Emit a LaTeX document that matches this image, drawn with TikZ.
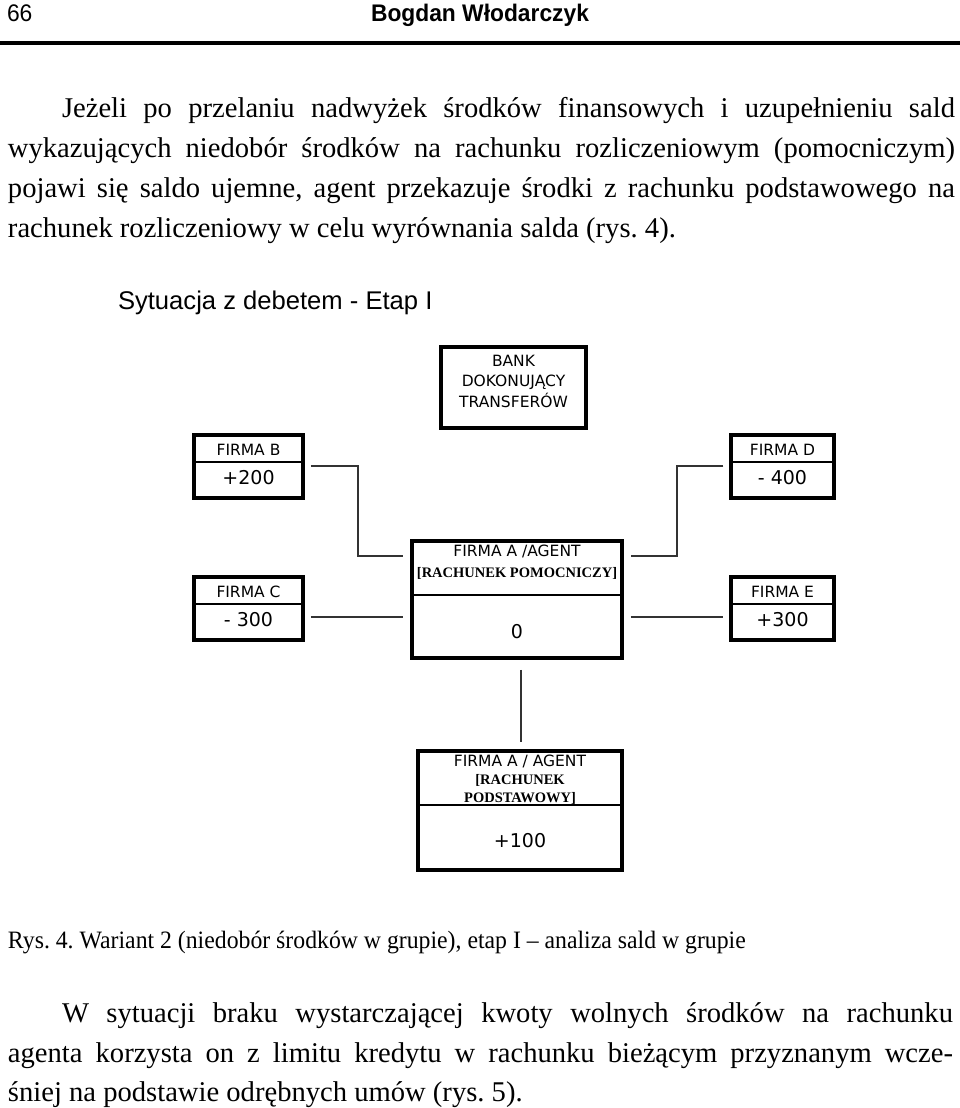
\documentclass[tikz,border=0pt]{standalone}
\usepackage{fontspec}
\setmainfont{Liberation Serif}
\newfontfamily\bodyfont{Liberation Serif}
\newfontfamily\capfont[FakeStretch=0.95]{Liberation Serif}
\newfontfamily\headfont[FakeStretch=0.95]{Liberation Sans}
\newfontfamily\arialfont{Liberation Sans}
\newfontfamily\boxfont{DejaVu Sans}
\newfontfamily\valfont{DejaVu Sans}
\newfontfamily\boxserif{Liberation Serif}
\frenchspacing
\begin{document}
\begin{tikzpicture}[x=1pt,y=-1pt,
  txt/.style={inner sep=0pt, outer sep=0pt, anchor=base west},
  para/.style={txt, font=\bodyfont\fontsize{28.6}{34}\selectfont},
  bx/.style={draw, line width=3.5pt, inner sep=0pt, minimum width=#1},
  lbl/.style={inner sep=0pt, font=\boxfont\fontsize{15.5}{18}\selectfont},
  val/.style={inner sep=0pt, font=\valfont\fontsize{19}{22}\selectfont},
  srf/.style={inner sep=0pt, font=\boxserif\bfseries\fontsize{14.5}{17}\selectfont},
  conn/.style={line width=1.3pt, draw=black!80},
  divl/.style={line width=1.3pt}]
\useasboundingbox (0,0) rectangle (960,1108);
\fill[white] (0,0) rectangle (960,1108);

% header
\node[txt, font=\headfont\fontsize{24}{28}\selectfont] (pg) at (7,22) {66};
\node[inner sep=0pt, anchor=base, font=\headfont\bfseries\fontsize{24}{28}\selectfont] (au) at (480,22) {Bogdan Włodarczyk};
\draw[line width=4pt] (0,43) -- (960,43);

% paragraph 1
\node[para] (p1a) at (62,117) {\makebox[893pt][s]{Jeżeli po przelaniu nadwyżek środków finansowych i uzupełnieniu sald}};
\node[para] (p1b) at (8,157) {\makebox[947pt][s]{wykazujących niedobór środków na rachunku rozliczeniowym (pomocniczym)}};
\node[para] (p1c) at (8,197) {\makebox[947pt][s]{pojawi się saldo ujemne, agent przekazuje środki z rachunku podstawowego na}};
\node[para] (p1d) at (8,237) {rachunek rozliczeniowy w celu wyrównania salda (rys. 4).};

% title
\node[txt, font=\arialfont\fontsize{25.6}{30}\selectfont] (tt) at (118,309) {Sytuacja z debetem - Etap I};

% boxes
\node[bx=145pt, minimum height=81pt] (bank) at (513.5,387.5) {};
\node[lbl, align=center, font=\boxfont\fontsize{15.5}{20.5}\selectfont] (banktxt) at (513.5,381) {BANK\\DOKONUJĄCY\\TRANSFERÓW};

\node[bx=109pt, minimum height=63pt] (fb) at (248.5,466.5) {};
\draw[divl] (fb.west |- 0,462) -- (fb.east |- 0,462);
\node[lbl] (fbl) at (248.5,450) {FIRMA B};
\node[val] (fbv) at (248.5,478) {+200};

\node[bx=103pt, minimum height=63pt] (fd) at (782.5,466.5) {};
\draw[divl] (fd.west |- 0,462) -- (fd.east |- 0,462);
\node[lbl] (fdl) at (782.5,450) {FIRMA D};
\node[val] (fdv) at (782.5,478) {- 400};

\node[bx=109pt, minimum height=63pt] (fc) at (248.5,608.5) {};
\draw[divl] (fc.west |- 0,604) -- (fc.east |- 0,604);
\node[lbl] (fcl) at (248.5,592) {FIRMA C};
\node[val] (fcv) at (248.5,620) {- 300};

\node[bx=103pt, minimum height=63pt] (fe) at (782.5,608.5) {};
\draw[divl] (fe.west |- 0,604) -- (fe.east |- 0,604);
\node[lbl] (fel) at (782.5,592) {FIRMA E};
\node[val] (fev) at (782.5,620) {+300};

\node[bx=210pt, minimum height=117pt] (ag) at (517,599.5) {};
\draw[divl] (ag.west |- 0,595) -- (ag.east |- 0,595);
\node[lbl] (agl) at (517,551) {FIRMA A /AGENT};
\node[srf] (ags) at (517,573) {[RACHUNEK POMOCNICZY]};
\node[val] (agv) at (517,632) {0};

\node[bx=204pt, minimum height=119pt] (ab) at (520,810.5) {};
\draw[divl] (ab.west |- 0,805) -- (ab.east |- 0,805);
\node[lbl] (abl) at (520,761) {FIRMA A / AGENT};
\node[srf, align=center, font=\boxserif\bfseries\fontsize{14.5}{18}\selectfont] (abs) at (520,789) {[RACHUNEK\\PODSTAWOWY]};
\node[val] (abv) at (520,841) {+100};

% connectors
\coordinate (b1) at ([xshift=6pt]fb.east |- 0,466);
\coordinate (b2) at (358,466);
\coordinate (b3) at (358,556);
\coordinate (b4) at ([xshift=-7pt]ag.west |- 0,556);
\draw[conn] (b1) -- (b2) -- (b3) -- (b4);
\coordinate (d1) at ([xshift=-6pt]fd.west |- 0,466);
\coordinate (d2) at (677,466);
\coordinate (d3) at (677,556);
\coordinate (d4) at ([xshift=7pt]ag.east |- 0,556);
\draw[conn] (d1) -- (d2) -- (d3) -- (d4);
\draw[conn] ([xshift=6pt]fc.east |- 0,617) -- ([xshift=-7pt]ag.west |- 0,617);
\draw[conn] ([xshift=7pt]ag.east |- 0,617) -- ([xshift=-6pt]fe.west |- 0,617);
\draw[conn] ([yshift=-10pt]ag.south -| 521,0) -- ([yshift=7pt]ab.north -| 521,0);

% caption
\node[txt, font=\capfont\fontsize{25}{28}\selectfont] (cap) at (8,948) {Rys. 4. Wariant 2 (niedobór środków w grupie), etap I – analiza sald w grupie};

% paragraph 2
\node[para] (p2a) at (62,1022) {\makebox[891pt][s]{W sytuacji braku wystarczającej kwoty wolnych środków na rachunku}};
\node[para] (p2b) at (8,1062) {\makebox[945pt][s]{agenta korzysta on z limitu kredytu w rachunku bieżącym przyznanym wcze-}};
\node[para] (p2c) at (8,1101) {śniej na podstawie odrębnych umów (rys. 5).};
\end{tikzpicture}
\end{document}
